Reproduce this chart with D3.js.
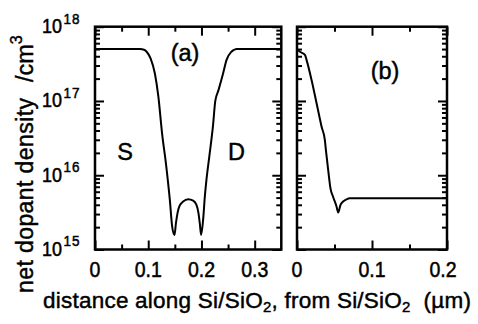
<!DOCTYPE html>
<html>
<head>
<meta charset="utf-8">
<script src="https://cdn.jsdelivr.net/npm/d3@7"></script>
<style>
  html, body { margin: 0; padding: 0; background: #fff; }
  svg { display: block; font-family: "Liberation Sans", Arial, Helvetica, sans-serif; }
  text { white-space: pre; fill: #000; stroke: #000; stroke-width: 0.45px; }
</style>
</head>
<body>
<svg id="chart" width="478" height="324"></svg>
<script>
// Panel (a): lateral profile along the Si/SiO2 interface (source - channel - drain)
const distA = [0, 0.085, 0.092, 0.097, 0.1044, 0.1125, 0.119, 0.126, 0.134, 0.1406, 0.145, 0.1494,
  0.152, 0.155, 0.159, 0.1656, 0.175, 0.1844, 0.1906, 0.1944, 0.1969, 0.1994,
  0.2031, 0.2063, 0.2094, 0.2148, 0.2215, 0.226, 0.232, 0.2406, 0.247, 0.2563, 0.262, 0.2656, 0.35];
const densityA = [5e17, 5e17, 4.9e17, 4.6e17, 3.75e17, 2.34e17, 1.15e17, 3.67e16, 1.3e16, 4.65e15, 2.03e15, 1.57e15,
  2.24e15, 3.09e15, 3.89e15, 4.42e15, 4.74e15, 4.54e15, 3.98e15, 3.09e15, 2.24e15, 1.57e15,
  2.5e15, 5.1e15, 8.7e15, 1.8e16, 4.5e16, 1.0e17, 1.4e17, 2.34e17, 3.55e17, 4.6e17, 4.9e17, 5e17, 5e17];

// Panel (b): depth profile from the Si/SiO2 interface
const distB = [0, 0.004, 0.0106, 0.0128, 0.0195, 0.0261, 0.0328, 0.0372, 0.0385, 0.0416, 0.0447,
  0.0482, 0.0527, 0.0549, 0.058, 0.0615, 0.066, 0.0704, 0.2];
const densityB = [5e17, 4.6e17, 4.17e17, 3.55e17, 1.9e17, 9.3e16, 4.5e16, 2.95e16, 2.2e16, 1.17e16, 6.6e15,
  5.1e15, 3.8e15, 3.16e15, 3.98e15, 4.42e15, 4.74e15, 4.9e15, 4.9e15];

// Tick positions and labels
const xMajorA = [0, 0.1, 0.2, 0.3];
const xMinorA = [0.05, 0.15, 0.25];
const xLabelsA = ["0", "0.1", "0.2", "0.3"];
const xMajorB = [0, 0.1, 0.2];
const xMinorB = [0.05, 0.15];
const xLabelsB = ["0", "0.1", "0.2"];
const yMajor = [1e15, 1e16, 1e17, 1e18];
const yExponents = ["15", "16", "17", "18"];
const yMinor = [];
for (let e = 15; e < 18; e++) for (let m = 2; m <= 9; m++) yMinor.push(m * Math.pow(10, e));

const svg = d3.select("#chart");

const xA = d3.scaleLinear().domain([0, 0.35]).range([95, 281.3]);
const xB = d3.scaleLinear().domain([0, 0.2]).range([297, 447]);
const y = d3.scaleLog().domain([1e15, 1e18]).range([249.5, 26.7]);

const MAJOR = 9, MINOR = 5;

function drawPanel(x, majorX, minorX, dist, dens) {
  const g = svg.append("g");
  const [x0, x1] = x.range();
  const [yb, yt] = y.range();

  const addAxis = (axis, tx, ty) => {
    const a = g.append("g").attr("transform", `translate(${tx},${ty})`).call(axis);
    a.select(".domain").remove();
    a.selectAll(".tick line").attr("stroke", "#000").attr("stroke-width", 2);
  };
  // x ticks, bottom and top, pointing inward
  addAxis(d3.axisBottom(x).tickValues(majorX).tickSize(-MAJOR).tickFormat(""), 0, yb);
  addAxis(d3.axisBottom(x).tickValues(minorX).tickSize(-MINOR).tickFormat(""), 0, yb);
  addAxis(d3.axisTop(x).tickValues(majorX).tickSize(-MAJOR).tickFormat(""), 0, yt);
  addAxis(d3.axisTop(x).tickValues(minorX).tickSize(-MINOR).tickFormat(""), 0, yt);
  // log y ticks, left and right
  addAxis(d3.axisLeft(y).tickValues(yMajor).tickSize(-MAJOR).tickFormat(""), x0, 0);
  addAxis(d3.axisLeft(y).tickValues(yMinor).tickSize(-MINOR).tickFormat(""), x0, 0);
  addAxis(d3.axisRight(y).tickValues(yMajor).tickSize(-MAJOR).tickFormat(""), x1, 0);
  addAxis(d3.axisRight(y).tickValues(yMinor).tickSize(-MINOR).tickFormat(""), x1, 0);

  // profile curve
  const line = d3.line()
    .x((d, i) => x(dist[i]))
    .y(d => y(d))
    .curve(d3.curveMonotoneX);
  g.append("path")
    .attr("d", line(dens))
    .attr("fill", "none")
    .attr("stroke", "#000")
    .attr("stroke-width", 2)
    .attr("stroke-linejoin", "round");

  // frame
  g.append("rect")
    .attr("x", x0).attr("y", yt)
    .attr("width", x1 - x0).attr("height", yb - yt)
    .attr("fill", "none").attr("stroke", "#000").attr("stroke-width", 2.5);
  return g;
}

drawPanel(xA, xMajorA, xMinorA, distA, densityA);
drawPanel(xB, xMajorB, xMinorB, distB, densityB);

// x tick labels (slightly tall digits)
function xLabels(x, vals, labels, lastShift) {
  vals.forEach((v, i) => {
    const dx = (i === vals.length - 1) ? lastShift : 0;
    svg.append("text")
      .attr("transform", `translate(${x(v) + dx},276.5) scale(1,1.17)`)
      .attr("text-anchor", "middle")
      .attr("font-size", 19.5)
      .text(labels[i]);
  });
}
xLabels(xA, xMajorA, xLabelsA, 0);
xLabels(xB, xMajorB, xLabelsB, -4);

// y tick labels: powers of ten
yMajor.forEach((v, i) => {
  const t = svg.append("text")
    .attr("transform", `translate(42,${y(v) + 6.5}) scale(1,1.12)`)
    .attr("font-size", 18);
  t.append("tspan").text("10");
  t.append("tspan").attr("font-size", 13.5).attr("dy", -8.5).attr("dx", 1.5)
    .attr("letter-spacing", 1).text(yExponents[i]);
});

// axis titles
const xt = svg.append("text")
  .attr("x", 43).attr("y", 308.3)
  .attr("font-size", 22.5)
  .attr("textLength", 428)
  .attr("lengthAdjust", "spacing");
xt.append("tspan").text("distance along Si/SiO");
xt.append("tspan").attr("font-size", 15).attr("dy", 4).text("2");
xt.append("tspan").attr("dy", -4).text(", from Si/SiO");
xt.append("tspan").attr("font-size", 15).attr("dy", 4).text("2");
xt.append("tspan").attr("dy", -4).text("  (\u00b5m)");

svg.append("text")
  .attr("transform", "translate(33.3,293) rotate(-90)")
  .attr("font-size", 23)
  .attr("textLength", 195)
  .attr("lengthAdjust", "spacing")
  .text("net dopant density");
const unit = svg.append("text")
  .attr("transform", "translate(33.3,82) rotate(-90)")
  .attr("font-size", 23.5);
unit.append("tspan").text("/cm");
unit.append("tspan").attr("font-size", 16).attr("dy", -11).text("3");

// panel annotations
const notes = [
  { t: "(a)", x: 185, y: 60.5 },
  { t: "(b)", x: 385, y: 78.5 },
  { t: "S", x: 125, y: 160 },
  { t: "D", x: 236.5, y: 160 }
];
notes.forEach(n => {
  svg.append("text")
    .attr("x", n.x).attr("y", n.y)
    .attr("text-anchor", "middle")
    .attr("font-size", 23.5)
    .text(n.t);
});
</script>
</body>
</html>
